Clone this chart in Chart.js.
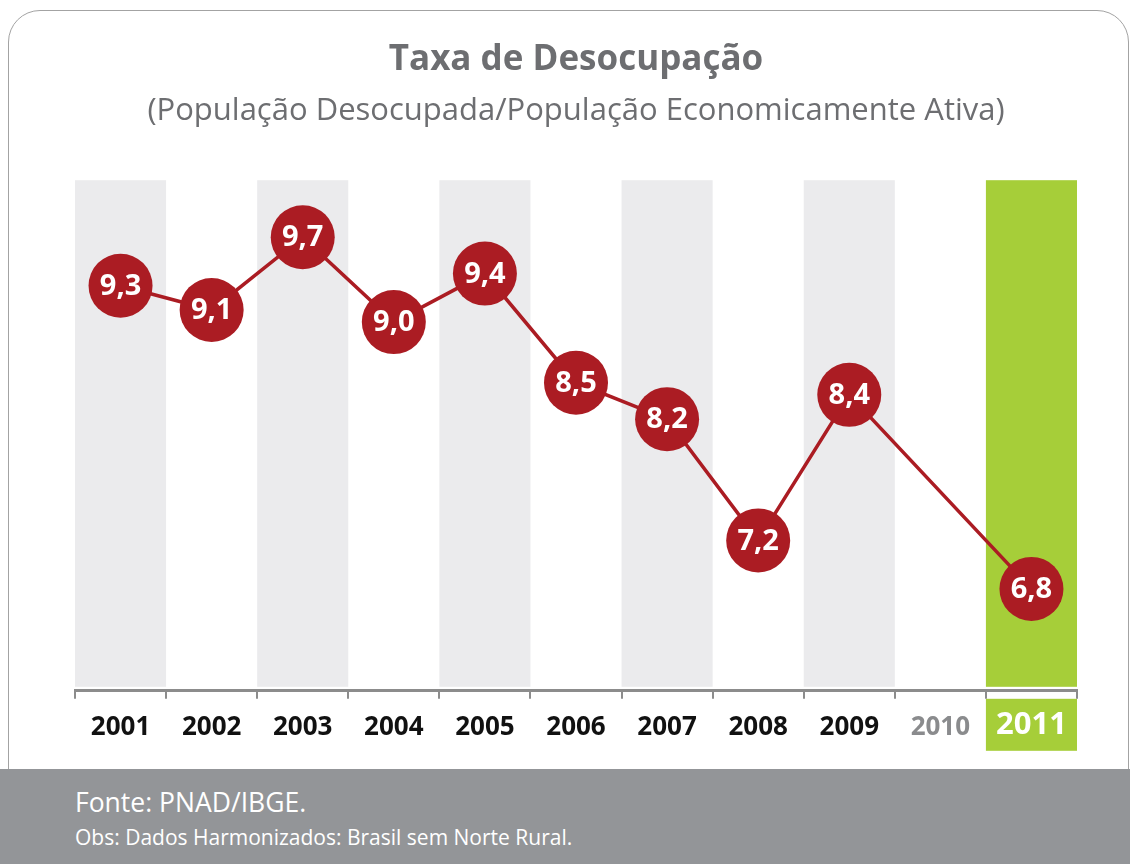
<!DOCTYPE html>
<html>
<head>
<meta charset="utf-8">
<title>Taxa de Desocupação</title>
<script src="https://cdn.jsdelivr.net/npm/chart.js@4.4.0/dist/chart.umd.min.js"></script>
<style>
  body { margin: 0; background: #fff; }
  #wrap { position: relative; width: 1130px; height: 864px; overflow: hidden; font-family: 'Open Sans', sans-serif; }
  #frame { position: absolute; left: 8px; top: 10px; width: 1121px; height: 820px; border: 1.5px solid #a3a3a3; border-radius: 32px; box-sizing: border-box; }
  #chart { position: absolute; left: 0; top: 0; }
  #footer { position: absolute; left: 0; top: 769px; width: 1130px; height: 95px; background: #939598; color: #fff; }
  .src1 { position: absolute; left: 75px; top: 16px; font-size: 26.5px; line-height: 34px; }
  .src2 { position: absolute; left: 75px; top: 54px; font-size: 21px; line-height: 28px; }
</style>
</head>
<body>
<div id="wrap">
  <div id="frame"></div>
  <canvas id="chart" width="1130" height="768"></canvas>
  <div id="footer">
    <div class="src1">Fonte: PNAD/IBGE.</div>
    <div class="src2">Obs: Dados Harmonizados: Brasil sem Norte Rural.</div>
  </div>
</div>
<script>
const years = ['2001', '2002', '2003', '2004', '2005', '2006', '2007', '2008', '2009', '2010', '2011'];
const rates = [9.3, 9.1, 9.7, 9.0, 9.4, 8.5, 8.2, 7.2, 8.4, null, 6.8];
const shadedYears = ['2001', '2003', '2005', '2007', '2009'];
const mutedYear = '2010';
const highlightYear = '2011';

const RED = '#ab1c23';
const GREEN = '#a6ce39';
const BAND = '#ebebed';
const AXIS = '#8c8c8c';

// gray / green column bands behind the line, plus the green box under the 2011 label
const bandsPlugin = {
  id: 'bands',
  beforeDraw(chart) {
    const { ctx, chartArea, scales: { x } } = chart;
    const w = x.width / years.length;
    ctx.save();
    years.forEach((yr, i) => {
      let color = null;
      if (yr === highlightYear) color = GREEN;
      else if (shadedYears.includes(yr)) color = BAND;
      if (!color) return;
      const c = x.getPixelForValue(i);
      ctx.fillStyle = color;
      ctx.fillRect(c - w / 2, chartArea.top, w, chartArea.bottom - 4 - chartArea.top);
      if (yr === highlightYear) ctx.fillRect(c - w / 2, x.top + 8, w, 52);
    });
    ctx.restore();
  }
};

// values written inside the circles, with comma decimals
const valueLabels = {
  id: 'valueLabels',
  afterDatasetsDraw(chart) {
    const { ctx } = chart;
    const meta = chart.getDatasetMeta(0);
    ctx.save();
    ctx.fillStyle = '#fff';
    ctx.font = 'bold 29px "Open Sans"';
    ctx.textAlign = 'center';
    ctx.textBaseline = 'middle';
    meta.data.forEach((pt, i) => {
      const v = rates[i];
      if (v == null) return;
      ctx.fillText(v.toFixed(1).replace('.', ','), pt.x, pt.y + 1);
    });
    ctx.restore();
  }
};

new Chart(document.getElementById('chart'), {
  type: 'line',
  data: {
    labels: years,
    datasets: [{
      data: rates,
      borderColor: RED,
      borderWidth: 3.5,
      backgroundColor: RED,
      pointBackgroundColor: RED,
      pointBorderWidth: 0,
      pointRadius: 32,
      pointHoverRadius: 32,
      spanGaps: true,
      tension: 0,
      clip: false
    }]
  },
  options: {
    responsive: false,
    devicePixelRatio: 1,
    animation: false,
    events: [],
    layout: { padding: { left: 75, right: 53, bottom: 12 } },
    plugins: {
      legend: { display: false },
      tooltip: { enabled: false },
      title: {
        display: true,
        text: 'Taxa de Desocupação',
        color: '#6d6e71',
        font: { family: 'Open Sans', size: 35, weight: 'bold', lineHeight: 1.2 },
        padding: { top: 39, bottom: 12 }
      },
      subtitle: {
        display: true,
        text: '(População Desocupada/População Economicamente Ativa)',
        color: '#6d6e71',
        font: { family: 'Open Sans', size: 31, lineHeight: 1.2 },
        padding: { top: 0, bottom: 50 }
      }
    },
    scales: {
      x: {
        offset: true,
        grid: {
          display: true,
          offset: true,
          drawOnChartArea: false,
          drawTicks: true,
          tickLength: 8,
          color: AXIS,
          lineWidth: 2
        },
        border: { display: true, color: AXIS, width: 3 },
        ticks: {
          autoSkip: false,
          maxRotation: 0,
          padding: 13,
          color: (c) => {
            const yr = years[c.index];
            if (yr === highlightYear) return '#ffffff';
            if (yr === mutedYear) return '#8a8b8d';
            return '#111111';
          },
          font: (c) => {
            const yr = years[c.index];
            if (yr === highlightYear) return { family: 'Open Sans', size: 31, weight: 'bold', lineHeight: 0.86 };
            return { family: 'Open Sans', size: 26, weight: 'bold', lineHeight: 1.2 };
          }
        }
      },
      y: {
        display: false,
        min: 5.96,
        max: 10.17
      }
    }
  },
  plugins: [bandsPlugin, valueLabels]
});
</script>
</body>
</html>
